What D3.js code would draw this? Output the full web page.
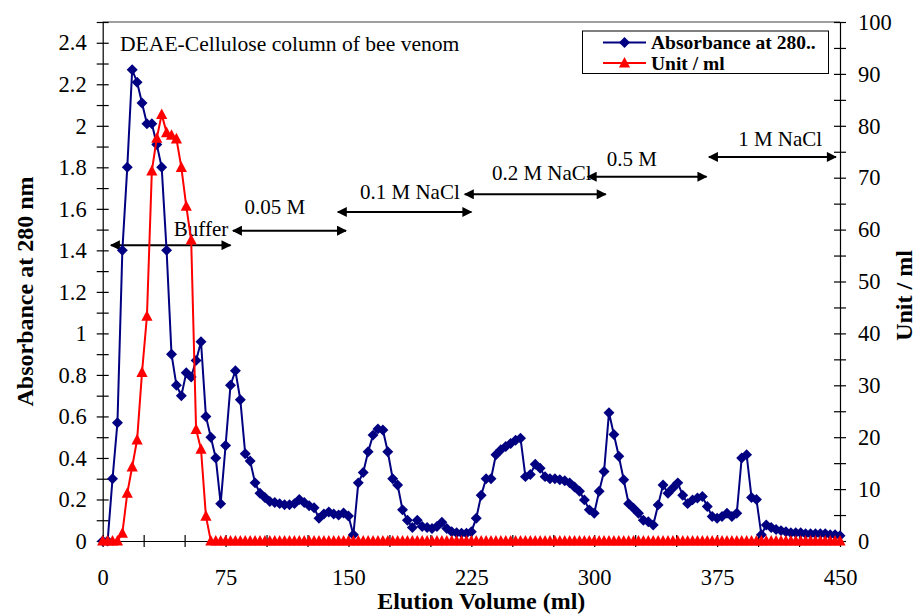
<!DOCTYPE html>
<html>
<head>
<meta charset="utf-8">
<script src="https://cdn.jsdelivr.net/npm/d3@7"></script>
<style>
  body { margin: 0; background: #fff; }
  svg { display: block; }
  text { font-family: "Liberation Serif", "Times New Roman", serif; fill: #000; }
</style>
</head>
<body>
<div id="chart"></div>
<script>
// elution volume of each fraction (ml)
const volumes = [
  0, 3, 6, 9, 12, 15, 18, 21, 24, 27,
  30, 33, 36, 39, 42, 45, 48, 51, 54, 57,
  60, 63, 66, 69, 72, 75, 78, 81, 84, 87,
  90, 93, 96, 99, 102, 105, 108, 111, 114, 117,
  120, 123, 126, 129, 132, 135, 138, 141, 144, 147,
  150, 153, 156, 159, 162, 165, 168, 171, 174, 177,
  180, 183, 186, 189, 192, 195, 198, 201, 204, 207,
  210, 213, 216, 219, 222, 225, 228, 231, 234, 237,
  240, 243, 246, 249, 252, 255, 258, 261, 264, 267,
  270, 273, 276, 279, 282, 285, 288, 291, 294, 297,
  300, 303, 306, 309, 312, 315, 318, 321, 324, 327,
  330, 333, 336, 339, 342, 345, 348, 351, 354, 357,
  360, 363, 366, 369, 372, 375, 378, 381, 384, 387,
  390, 393, 396, 399, 402, 405, 408, 411, 414, 417,
  420, 423, 426, 429, 432, 435, 438, 441, 444, 447,
  450
];

// absorbance at 280 nm
const absorbance = [
  0, 0, 0.30, 0.57, 1.40, 1.80, 2.27, 2.21, 2.11, 2.01,
  2.01, 1.91, 1.80, 1.40, 0.90, 0.75, 0.70, 0.81, 0.79, 0.87,
  0.96, 0.60, 0.50, 0.40, 0.18, 0.46, 0.75, 0.82, 0.68, 0.42,
  0.385, 0.28, 0.23, 0.21, 0.19, 0.185, 0.18, 0.175, 0.175, 0.18,
  0.20, 0.185, 0.17, 0.16, 0.11, 0.13, 0.14, 0.13, 0.125, 0.135,
  0.12, 0.03, 0.28, 0.33, 0.43, 0.51, 0.54, 0.535, 0.43, 0.30,
  0.27, 0.15, 0.10, 0.065, 0.10, 0.07, 0.065, 0.06, 0.07, 0.09,
  0.06, 0.045, 0.04, 0.038, 0.037, 0.045, 0.11, 0.22, 0.30, 0.30,
  0.415, 0.44, 0.455, 0.47, 0.485, 0.495, 0.31, 0.32, 0.37, 0.35,
  0.31, 0.30, 0.30, 0.295, 0.29, 0.28, 0.26, 0.24, 0.198, 0.15,
  0.134, 0.24, 0.335, 0.618, 0.513, 0.408, 0.295, 0.18, 0.158, 0.134,
  0.10, 0.093, 0.077, 0.174, 0.27, 0.23, 0.255, 0.28, 0.22, 0.18,
  0.198, 0.207, 0.214, 0.166, 0.118, 0.11, 0.118, 0.134, 0.118, 0.134,
  0.40, 0.416, 0.21, 0.20, 0.03, 0.077, 0.065, 0.055, 0.05, 0.045,
  0.04, 0.04, 0.04, 0.035, 0.035, 0.035, 0.035, 0.035, 0.03, 0.03,
  0.025
];

// enzyme activity, unit / ml
const units = [
  0, 0, 0, 0, 1.5, 9.2, 14.3, 19.5, 32.5, 43.3,
  71.3, 77.6, 82.2, 78.7, 78.2, 77.5, 72, 64.5, 58, 21.5,
  17.7, 4.8, 0, 0, 0, 0, 0, 0, 0, 0,
  0, 0, 0, 0, 0, 0, 0, 0, 0, 0,
  0, 0, 0, 0, 0, 0, 0, 0, 0, 0,
  0, 0, 0, 0, 0, 0, 0, 0, 0, 0,
  0, 0, 0, 0, 0, 0, 0, 0, 0, 0,
  0, 0, 0, 0, 0, 0, 0, 0, 0, 0,
  0, 0, 0, 0, 0, 0, 0, 0, 0, 0,
  0, 0, 0, 0, 0, 0, 0, 0, 0, 0,
  0, 0, 0, 0, 0, 0, 0, 0, 0, 0,
  0, 0, 0, 0, 0, 0, 0, 0, 0, 0,
  0, 0, 0, 0, 0, 0, 0, 0, 0, 0,
  0, 0, 0, 0, 0, 0, 0, 0, 0, 0,
  0, 0, 0, 0, 0, 0, 0, 0, 0, 0,
  0
];

// elution steps (volume range in ml, height in absorbance units)
const stepLabels = ["Buffer", "0.05 M", "0.1 M NaCl", "0.2 M NaCl", "0.5 M", "1 M NaCl"];
const stepStart = [5, 79.5, 143.5, 221, 296, 370];
const stepEnd = [78, 148.5, 225, 307, 368.5, 447.5];
const stepLevel = [1.425, 1.495, 1.585, 1.67, 1.755, 1.85];
const stepLabelX = [60, 105, 187.5, 268, 323, 413.5];
const stepLabelLevel = [1.468, 1.575, 1.648, 1.739, 1.806, 1.903];

const seriesNames = ["Absorbance at 280..", "Unit / ml"];

const width = 919, height = 615;
const pLeft = 102.7, pRight = 840, pTop = 22, pBottom = 541;
const blue = "#000080", red = "#ff0000";

const svg = d3.select("#chart").append("svg")
    .attr("width", width).attr("height", height);

const x = d3.scaleLinear().domain([0, 450]).range([pLeft, pRight]);
const yL = d3.scaleLinear().domain([0, 2.5]).range([pBottom, pTop]);
const yR = d3.scaleLinear().domain([0, 100]).range([pBottom, pTop]);

// plot frame top
svg.append("line")
    .attr("x1", pLeft).attr("x2", pRight).attr("y1", pTop).attr("y2", pTop)
    .attr("stroke", "#404040").attr("stroke-width", 1);

// axes
const tickFont = "22.5px";

const axL = svg.append("g").attr("transform", `translate(${pLeft},0)`)
    .call(d3.axisLeft(yL)
        .tickValues(d3.range(0, 26).map(i => i / 10))
        .tickSize(6).tickSizeOuter(0).tickPadding(10)
        .tickFormat(d => (Math.round(d * 10) % 2 === 0 && d < 2.45) ? String(+d.toFixed(1)) : ""));
axL.selectAll(".tick line").attr("x1", 6);

const axR = svg.append("g").attr("transform", `translate(${pRight},0)`)
    .call(d3.axisRight(yR)
        .tickValues(d3.range(0, 21).map(i => i * 5))
        .tickSize(6).tickSizeOuter(0).tickPadding(12)
        .tickFormat(d => d % 10 === 0 ? String(d) : ""));
axR.selectAll(".tick line").attr("x1", -6);

const axX = svg.append("g").attr("transform", `translate(0,${pBottom})`)
    .call(d3.axisBottom(x)
        .tickValues(d3.range(0, 19).map(i => i * 25))
        .tickSize(6).tickSizeOuter(0).tickPadding(22)
        .tickFormat(d => d % 75 === 0 ? String(d) : ""));
axX.selectAll(".tick line").attr("y1", -6);

[axL, axR, axX].forEach(g => {
    g.selectAll(".domain").attr("stroke", "#000").attr("stroke-width", 1.2);
    g.selectAll(".tick line").attr("stroke", "#000").attr("stroke-width", 1.2);
    g.selectAll(".tick text").style("font-size", tickFont)
        .style("font-family", '"Liberation Serif", serif').attr("fill", "#000");
});

// axis titles
svg.append("text")
    .attr("transform", `translate(33,${(pTop + pBottom) / 2 + 10}) rotate(-90)`)
    .attr("text-anchor", "middle")
    .style("font-size", "24px").style("font-weight", "bold")
    .text("Absorbance at 280 nm");

svg.append("text")
    .attr("transform", `translate(912,${(pTop + pBottom) / 2 + 14}) rotate(-90)`)
    .attr("text-anchor", "middle")
    .style("font-size", "24px").style("font-weight", "bold")
    .text("Unit / ml");

svg.append("text")
    .attr("x", (pLeft + pRight) / 2 + 10).attr("y", 609)
    .attr("text-anchor", "middle")
    .style("font-size", "24px").style("font-weight", "bold")
    .text("Elution Volume (ml)");

// chart caption
svg.append("text")
    .attr("x", 120).attr("y", 51)
    .style("font-size", "21.6px")
    .text("DEAE-Cellulose column of bee venom");

// step arrows
const defs = svg.append("defs");
defs.append("marker").attr("id", "head")
    .attr("viewBox", "0 0 10 10").attr("refX", 9).attr("refY", 5)
    .attr("markerWidth", 11).attr("markerHeight", 10)
    .attr("markerUnits", "userSpaceOnUse").attr("orient", "auto-start-reverse")
    .append("path").attr("d", "M0,0L10,5L0,10Z").attr("fill", "#000");

const steps = stepLabels.map((s, i) => ({
    label: s, x0: stepStart[i], x1: stepEnd[i], lvl: stepLevel[i],
    lx: stepLabelX[i], ll: stepLabelLevel[i]
}));

svg.append("g").selectAll("line").data(steps).join("line")
    .attr("x1", d => x(d.x0)).attr("x2", d => x(d.x1))
    .attr("y1", d => yL(d.lvl)).attr("y2", d => yL(d.lvl))
    .attr("stroke", "#000").attr("stroke-width", 2)
    .attr("marker-start", "url(#head)").attr("marker-end", "url(#head)");

svg.append("g").selectAll("text").data(steps).join("text")
    .attr("x", d => x(d.lx)).attr("y", d => yL(d.ll))
    .attr("text-anchor", "middle")
    .style("font-size", "21px")
    .text(d => d.label);

// series
const absData = volumes.map((v, i) => ({ v, a: absorbance[i] }));
const unitData = volumes.map((v, i) => ({ v, u: units[i] }));

const diamond = d3.symbol(d3.symbolSquare, 60)();
const triangle = "M0,-6L5.6,4.6L-5.6,4.6Z";

svg.append("path").datum(absData)
    .attr("fill", "none").attr("stroke", blue).attr("stroke-width", 2)
    .attr("d", d3.line().x(d => x(d.v)).y(d => yL(d.a)));

svg.append("g").selectAll("path").data(absData).join("path")
    .attr("d", diamond)
    .attr("transform", d => `translate(${x(d.v)},${yL(d.a)}) rotate(45)`)
    .attr("fill", blue);

svg.append("path").datum(unitData)
    .attr("fill", "none").attr("stroke", red).attr("stroke-width", 2)
    .attr("d", d3.line().x(d => x(d.v)).y(d => yR(d.u)));

svg.append("g").selectAll("path").data(unitData).join("path")
    .attr("d", triangle)
    .attr("transform", d => `translate(${x(d.v)},${yR(d.u)})`)
    .attr("fill", red);

// legend
const lg = svg.append("g");
lg.append("rect")
    .attr("x", 582.5).attr("y", 31).attr("width", 246).attr("height", 42.5)
    .attr("fill", "#fff").attr("stroke", "#000").attr("stroke-width", 1);

const legendRows = seriesNames.map((n, i) => ({ name: n, color: i === 0 ? blue : red, shape: i === 0 ? "d" : "t" }));
const row = lg.selectAll("g").data(legendRows).join("g")
    .attr("transform", (d, i) => `translate(0,${42.5 + i * 20.5})`);
row.append("line").attr("x1", 603).attr("x2", 646).attr("y1", 0).attr("y2", 0)
    .attr("stroke", d => d.color).attr("stroke-width", 2);
row.append("path")
    .attr("d", d => d.shape === "d" ? diamond : triangle)
    .attr("transform", d => d.shape === "d" ? "translate(624.5,0) rotate(45)" : "translate(624.5,0)")
    .attr("fill", d => d.color);
row.append("text").attr("x", 651).attr("y", 6.5)
    .style("font-size", "19.5px").style("font-weight", "bold")
    .text(d => d.name);
</script>
</body>
</html>
